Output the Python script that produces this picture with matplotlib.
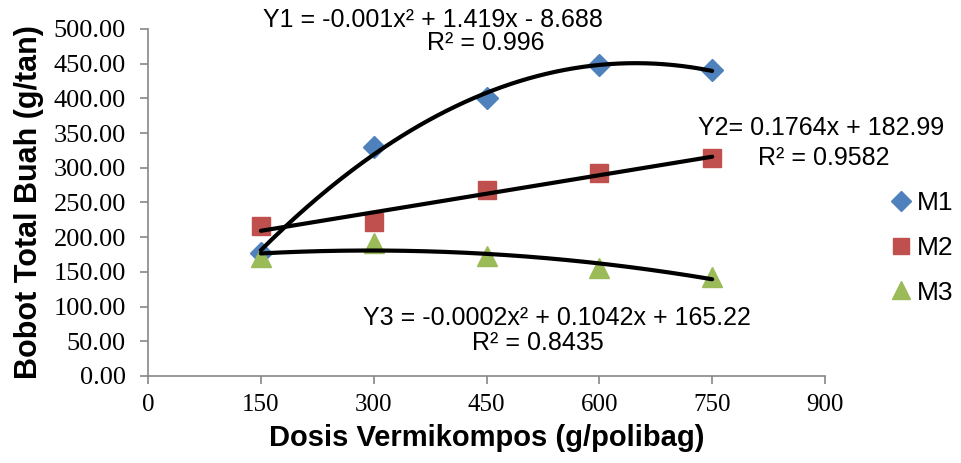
import numpy as np
import matplotlib
matplotlib.use("Agg")
import matplotlib.pyplot as plt
from matplotlib.lines import Line2D

doses = [150, 300, 450, 600, 750]
m1 = [177, 330, 400, 448, 441]
m2 = [216, 222, 268, 293, 314]
m3 = [172, 191, 173, 156, 143]
series_names = ["M1", "M2", "M3"]
x_ticks = [0, 150, 300, 450, 600, 750, 900]
y_ticks = [0, 50, 100, 150, 200, 250, 300, 350, 400, 450, 500]

fig = plt.figure(figsize=(9.61, 4.63), dpi=100)
ax = fig.add_axes([148/961, 1-376/463, 677/961, 347/463])

serif = "Liberation Serif"
sans = "Liberation Sans"

colors = ["#4F81BD", "#C0504D", "#9BBB59"]
markers = ["D", "s", "^"]
sizes = [11, 13, 14]
data = [m1, m2, m3]
degs = [2, 1, 2]

xs = np.array(doses, dtype=float)
xx = np.linspace(150, 750, 200)
for d, c, mk, ms, deg in zip(data, colors, markers, sizes, degs):
    ax.plot(doses, d, linestyle="none", marker=mk, color=c, markersize=ms,
            markeredgecolor=c, zorder=2)
    p = np.polyfit(xs, np.array(d, dtype=float), deg)
    ax.plot(xx, np.polyval(p, xx), color="black", lw=3, zorder=3,
            solid_capstyle="round")

ax.set_xlim(0, 900)
ax.set_ylim(0, 500)
ax.set_xticks(x_ticks)
ax.set_yticks(y_ticks)
ax.set_xticklabels([str(v) for v in x_ticks], fontfamily=serif, fontsize=18)
ax.set_yticklabels([f"{v:.2f}" for v in y_ticks], fontfamily=serif, fontsize=19)
for s in ["top", "right"]:
    ax.spines[s].set_visible(False)
for s in ["left", "bottom"]:
    ax.spines[s].set_color("#868686")
    ax.spines[s].set_linewidth(1.2)
ax.tick_params(axis="both", direction="out", color="#868686", length=6, width=1.2)
ax.tick_params(axis="x", pad=7)
ax.tick_params(axis="y", pad=10)

ax.set_xlabel("Dosis Vermikompos (g/polibag)", fontfamily=sans, fontweight="bold",
              fontsize=21, labelpad=6)
ax.set_ylabel("Bobot Total Buah (g/tan)", fontfamily=sans, fontweight="bold",
              fontsize=22, labelpad=7)

def t(xp, yp, s):
    fig.text(xp/961, 1-yp/463, s, ha="left", va="baseline", fontfamily=sans, fontsize=18)

t(263, 27, "Y1 = -0.001x² + 1.419x - 8.688")
t(427, 50, "R² = 0.996")
t(698, 135, "Y2= 0.1764x + 182.99")
t(758, 165, "R² = 0.9582")
t(363, 325, "Y3 = -0.0002x² + 0.1042x + 165.22")
t(472, 350, "R² = 0.8435")

handles = [Line2D([], [], linestyle="none", marker=mk, color=c, markersize=ms*0.9,
                  markeredgecolor=c) for c, mk, ms in zip(colors, markers, sizes)]
leg = fig.legend(handles, series_names, loc="center left",
                 bbox_to_anchor=(880/961, 1-248/463), frameon=False,
                 prop={"family": sans, "size": 19}, handlelength=0.8,
                 handletextpad=0.2, labelspacing=0.78, borderaxespad=0)

fig.savefig("out.png", dpi=100)
